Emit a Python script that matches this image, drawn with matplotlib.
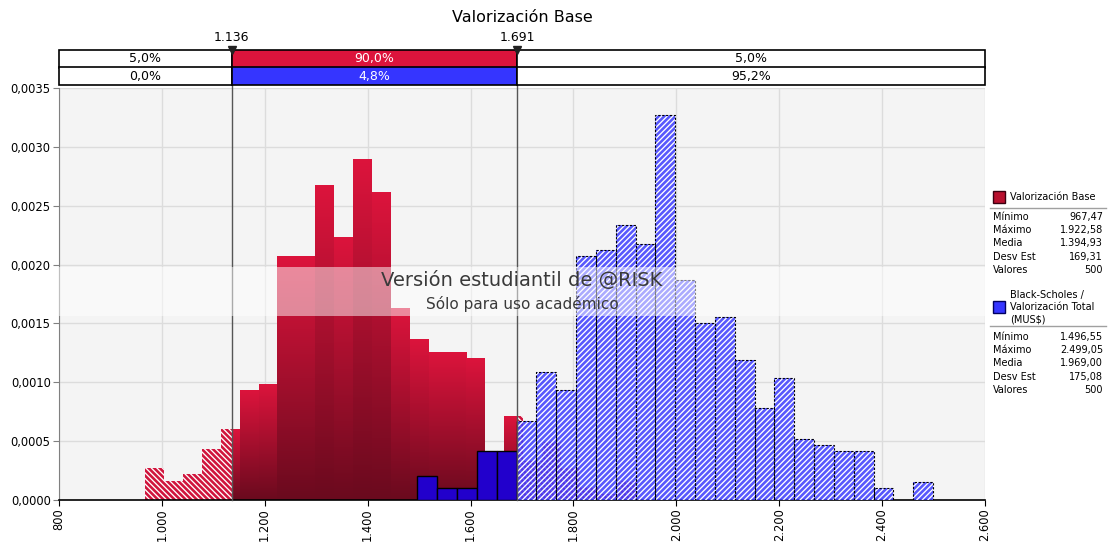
import matplotlib.pyplot as plt
import numpy as np
from matplotlib import colors as mcolors
from matplotlib.patches import Rectangle
from matplotlib.ticker import FuncFormatter, MultipleLocator

# Valorizacion Base (red) - histogram densities, 26 bins from min to max
red_min, red_max = 967.47, 1922.58
red_density = [0.000272, 0.000163, 0.000218, 0.000436, 0.000599, 0.000926,
               0.000980, 0.00207, 0.00207, 0.00267, 0.00223, 0.00289,
               0.00261, 0.00163, 0.00136, 0.00125, 0.00125, 0.00120,
               0.00033, 0.00071, 0.00033, 0.00049, 0.00027, 0.00011,
               0.00005, 0.00016]

# Black-Scholes / Valorizacion Total (blue) - 26 bins
blue_min, blue_max = 1496.55, 2499.05
blue_density = [0.000207, 0.000104, 0.000104, 0.000415, 0.000415, 0.000674,
                0.001089, 0.000934, 0.002075, 0.002127, 0.002334, 0.002178,
                0.003268, 0.001867, 0.001504, 0.001556, 0.001193, 0.000778,
                0.001037, 0.000519, 0.000467, 0.000415, 0.000415, 0.000104,
                0.0, 0.000156]

lo_cut, hi_cut = 1136, 1691
row_red = ["5,0%", "90,0%", "5,0%"]
row_blue = ["0,0%", "4,8%", "95,2%"]

stats_labels = ["Mínimo", "Máximo", "Media", "Desv Est", "Valores"]
red_stats = ["967,47", "1.922,58", "1.394,93", "169,31", "500"]
blue_stats = ["1.496,55", "2.499,05", "1.969,00", "175,08", "500"]

CRIMSON = "#DC143C"
BLUE_BAR = "#3535FF"

plt.rcParams["font.family"] = ["DejaVu Sans"]
plt.rcParams["hatch.linewidth"] = 0.95

W, H = 1110, 543
fig = plt.figure(figsize=(W / 100, H / 100), dpi=100)


def fx(px):
    return px / W


def fy(py):
    return 1 - py / H


ax = fig.add_axes([fx(59), fy(500), fx(985) - fx(59), fy(88) - fy(500)])
ax.set_facecolor("#F4F4F4")
ax.set_axisbelow(True)
ax.grid(True, color="#DCDCDC", linewidth=1)

grad_cmap = mcolors.LinearSegmentedColormap.from_list("redgrad", ["#6A0A1E", CRIMSON])
gradient = np.linspace(0, 1, 256).reshape(-1, 1)


def pieces(x0, x1):
    """Split a bin into (start, end, inside) pieces around the cut lines."""
    out = []
    pts = [x0] + [c for c in (lo_cut, hi_cut) if x0 < c < x1] + [x1]
    for a, b in zip(pts[:-1], pts[1:]):
        mid = (a + b) / 2
        out.append((a, b, lo_cut <= mid <= hi_cut))
    return out


# red histogram
red_edges = np.linspace(red_min, red_max, len(red_density) + 1)
for i, h in enumerate(red_density):
    if h <= 0:
        continue
    for a, b, inside in pieces(red_edges[i], red_edges[i + 1]):
        if inside:
            ax.imshow(gradient, extent=[a, b, 0, h], origin="lower", aspect="auto",
                      cmap=grad_cmap, zorder=2, interpolation="bilinear")
        else:
            ax.bar(a, h, width=b - a, align="edge", facecolor="#D0143C",
                   edgecolor="white", linewidth=0, hatch="\\\\\\\\\\\\", zorder=2)

# blue histogram
blue_edges = np.linspace(blue_min, blue_max, len(blue_density) + 1)
for i, h in enumerate(blue_density):
    if h <= 0:
        continue
    for a, b, inside in pieces(blue_edges[i], blue_edges[i + 1]):
        if inside:
            ax.bar(a, h, width=b - a, align="edge", facecolor="#2200CC",
                   edgecolor="black", linewidth=1, zorder=3)
        else:
            ax.bar(a, h, width=b - a, align="edge", facecolor=(0.24, 0.24, 1.0, 0.85),
                   edgecolor="white", linewidth=0, hatch="//////", zorder=3)
            ax.bar(a, h, width=b - a, align="edge", fill=False, edgecolor="black",
                   linewidth=0.8, linestyle=(0, (2, 1.5)), zorder=3.1)

ax.set_xlim(800, 2600)
ax.set_ylim(0, 0.0035)
ax.xaxis.set_major_locator(MultipleLocator(200))
ax.yaxis.set_major_locator(MultipleLocator(0.0005))
ax.xaxis.set_major_formatter(FuncFormatter(lambda v, p: f"{int(round(v)):,}".replace(",", ".")))
ax.yaxis.set_major_formatter(FuncFormatter(lambda v, p: f"{v:.4f}".replace(".", ",")))
ax.tick_params(axis="x", labelrotation=90, labelsize=8.3, length=4, pad=2, color="black")
ax.tick_params(axis="y", labelsize=8.3, length=4, pad=2, color="#808080")
for s in ("top", "right"):
    ax.spines[s].set_visible(False)
ax.spines["left"].set_color("#808080")
ax.spines["bottom"].set_color("black")
ax.spines["bottom"].set_linewidth(1.2)

# cut lines
for c in (lo_cut, hi_cut):
    ax.axvline(c, ymin=0, ymax=450 / 412, color="#555555", linewidth=1, zorder=4, clip_on=False)

# watermark band
band_lo = 0.0035 * (500 - 316) / 412
band_hi = 0.0035 * (500 - 267) / 412
ax.axhspan(band_lo, band_hi, color="white", alpha=0.5, linewidth=0, zorder=5)
ax.text(0.5, 0.0035 * (500 - 281) / 412, "Versión estudiantil de @RISK", ha="center", va="center",
        fontsize=14, color="#3A3A3A", zorder=6, transform=ax.get_yaxis_transform())
ax.text(0.5, 0.0035 * (500 - 304) / 412, "Sólo para uso académico", ha="center", va="center",
        fontsize=11, color="#3A3A3A", zorder=6, transform=ax.get_yaxis_transform())

# top percentage boxes
axt = fig.add_axes([fx(59), fy(85), fx(985) - fx(59), fy(50) - fy(85)])
axt.set_xlim(800, 2600)
axt.set_ylim(0, 2)
axt.axis("off")
bounds = [800, lo_cut, hi_cut, 2600]
for j in range(3):
    a, b = bounds[j], bounds[j + 1]
    top_fc = CRIMSON if j == 1 else "white"
    bot_fc = BLUE_BAR if j == 1 else "white"
    tc = "white" if j == 1 else "black"
    axt.add_patch(Rectangle((a, 1), b - a, 1, facecolor=top_fc, edgecolor="black", linewidth=1.2, clip_on=False))
    axt.add_patch(Rectangle((a, 0), b - a, 1, facecolor=bot_fc, edgecolor="black", linewidth=1.2, clip_on=False))
    axt.text((a + b) / 2, 1.5, row_red[j], ha="center", va="center", fontsize=9, color=tc)
    axt.text((a + b) / 2, 0.5, row_blue[j], ha="center", va="center", fontsize=9, color=tc)
for c in (lo_cut, hi_cut):
    axt.plot([c], [2.0], marker="v", color="#222222", markersize=6, clip_on=False, zorder=5)
    axt.text(c, 2.35, f"{c:,}".replace(",", "."), ha="center", va="bottom", fontsize=9)

fig.text(fx(522), fy(18), "Valorización Base", ha="center", va="center", fontsize=11.5)

# legend / statistics panel
fs = 7


def stat_block(y0, values):
    for k, (lab, val) in enumerate(zip(stats_labels, values)):
        y = y0 + k * 13.2
        fig.text(fx(993), fy(y), lab, ha="left", va="center", fontsize=fs)
        fig.text(fx(1103), fy(y), val, ha="right", va="center", fontsize=fs)


fig.patches.append(Rectangle((fx(993), fy(203)), fx(12), 12 / H, facecolor="#B8102E",
                             edgecolor="#3A0010", linewidth=1, transform=fig.transFigure))
fig.text(fx(1010), fy(197), "Valorización Base", ha="left", va="center", fontsize=fs)
fig.add_artist(plt.Line2D([fx(990), fx(1106)], [fy(208), fy(208)], color="#A0A0A0", linewidth=1))
stat_block(217, red_stats)

fig.patches.append(Rectangle((fx(993), fy(313)), fx(12), 12 / H, facecolor=BLUE_BAR,
                             edgecolor="#000060", linewidth=1, transform=fig.transFigure))
fig.text(fx(1010), fy(295), "Black-Scholes /", ha="left", va="center", fontsize=fs)
fig.text(fx(1010), fy(307), "Valorización Total", ha="left", va="center", fontsize=fs)
fig.text(fx(1010), fy(319), "(MUS$)", ha="left", va="center", fontsize=fs)
fig.add_artist(plt.Line2D([fx(990), fx(1106)], [fy(326), fy(326)], color="#A0A0A0", linewidth=1))
stat_block(337, blue_stats)

fig.savefig("out.png", dpi=100)
